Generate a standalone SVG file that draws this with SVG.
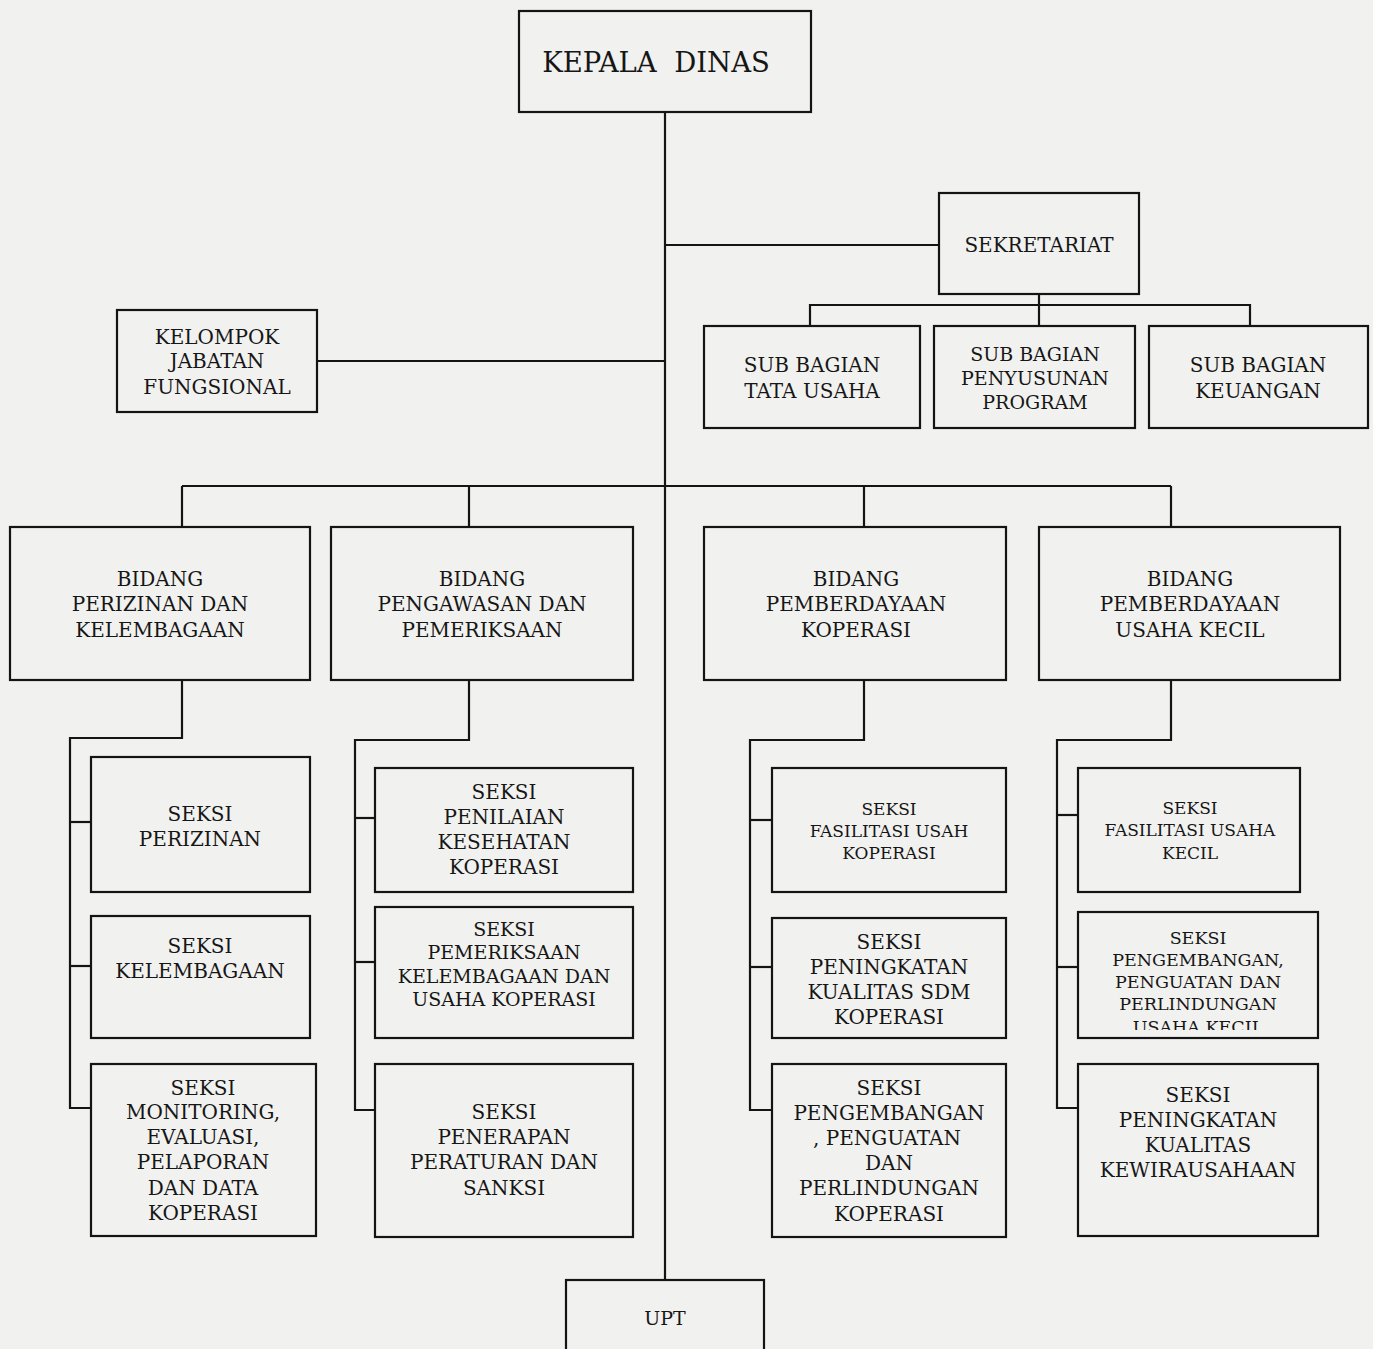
<svg xmlns="http://www.w3.org/2000/svg" width="1373" height="1349" viewBox="0 0 1373 1349">
  <style>
    .bg { fill: #f1f1ef; }
    .box { fill: none; stroke: #141414; stroke-width: 2.2; }
    .ln { fill: none; stroke: #141414; stroke-width: 2.2; }
    text { font-family: "DejaVu Serif", "Liberation Serif", serif; fill: #161616; text-anchor: middle; font-size: 20px; }
    .big { font-size: 27.5px; }
    .s19 { font-size: 19px; }
    .s17 { font-size: 17px; }
    .s175 { font-size: 17.5px; }
  </style>
  <defs>
    <clipPath id="clipPengembanganUK">
      <rect x="1079" y="913" width="238" height="117"/>
    </clipPath>
  </defs>

  <rect class="bg" x="0" y="0" width="1373" height="1349"/>

  <!-- connectors -->
  <g id="connectors">
    <!-- main spine -->
    <line class="ln" x1="665" y1="112" x2="665" y2="1280"/>
    <!-- to sekretariat -->
    <line class="ln" x1="665" y1="245" x2="939" y2="245"/>
    <!-- sekretariat to sub bagian -->
    <line class="ln" x1="1039" y1="294" x2="1039" y2="326"/>
    <polyline class="ln" points="810,326 810,305 1250,305 1250,326"/>
    <!-- to kelompok jabatan fungsional -->
    <line class="ln" x1="317" y1="361" x2="665" y2="361"/>
    <!-- bidang bus -->
    <line class="ln" x1="182" y1="486" x2="1171" y2="486"/>
    <line class="ln" x1="182" y1="486" x2="182" y2="527"/>
    <line class="ln" x1="469" y1="486" x2="469" y2="527"/>
    <line class="ln" x1="864" y1="486" x2="864" y2="527"/>
    <line class="ln" x1="1171" y1="486" x2="1171" y2="527"/>
    <!-- bidang perizinan dan kelembagaan -->
    <polyline class="ln" points="182,680 182,738 70,738 70,1108 91,1108"/>
    <line class="ln" x1="70" y1="822" x2="91" y2="822"/>
    <line class="ln" x1="70" y1="966" x2="91" y2="966"/>
    <!-- bidang pengawasan dan pemeriksaan -->
    <polyline class="ln" points="469,680 469,740 355,740 355,1110 375,1110"/>
    <line class="ln" x1="355" y1="818" x2="375" y2="818"/>
    <line class="ln" x1="355" y1="962" x2="375" y2="962"/>
    <!-- bidang pemberdayaan koperasi -->
    <polyline class="ln" points="864,680 864,740 750,740 750,1110 772,1110"/>
    <line class="ln" x1="750" y1="820" x2="772" y2="820"/>
    <line class="ln" x1="750" y1="967" x2="772" y2="967"/>
    <!-- bidang pemberdayaan usaha kecil -->
    <polyline class="ln" points="1171,680 1171,740 1057,740 1057,1108 1078,1108"/>
    <line class="ln" x1="1057" y1="815" x2="1078" y2="815"/>
    <line class="ln" x1="1057" y1="967" x2="1078" y2="967"/>
  </g>

  <!-- top level -->
  <g id="kepala-dinas">
    <rect class="box" x="519" y="11" width="292" height="101"/>
    <text class="big" x="656" y="72" xml:space="preserve">KEPALA  DINAS</text>
  </g>

  <g id="sekretariat">
    <rect class="box" x="939" y="193" width="200" height="101"/>
    <text x="1039" y="252">SEKRETARIAT</text>
  </g>

  <g id="sub-bagian-tata-usaha">
    <rect class="box" x="704" y="326" width="216" height="102"/>
    <text x="812" y="372">SUB BAGIAN</text>
    <text x="812" y="398">TATA USAHA</text>
  </g>

  <g id="sub-bagian-penyusunan-program">
    <rect class="box" x="934" y="326" width="201" height="102"/>
    <text class="s19" x="1035" y="361">SUB BAGIAN</text>
    <text class="s19" x="1035" y="385">PENYUSUNAN</text>
    <text class="s19" x="1035" y="409">PROGRAM</text>
  </g>

  <g id="sub-bagian-keuangan">
    <rect class="box" x="1149" y="326" width="219" height="102"/>
    <text x="1258" y="372">SUB BAGIAN</text>
    <text x="1258" y="398">KEUANGAN</text>
  </g>

  <g id="kelompok-jabatan-fungsional">
    <rect class="box" x="117" y="310" width="200" height="102"/>
    <text x="217" y="344">KELOMPOK</text>
    <text x="217" y="368">JABATAN</text>
    <text x="217" y="394">FUNGSIONAL</text>
  </g>

  <!-- bidang -->
  <g id="bidang-perizinan-kelembagaan">
    <rect class="box" x="10" y="527" width="300" height="153"/>
    <text x="160" y="586">BIDANG</text>
    <text x="160" y="611">PERIZINAN DAN</text>
    <text x="160" y="637">KELEMBAGAAN</text>
  </g>

  <g id="bidang-pengawasan-pemeriksaan">
    <rect class="box" x="331" y="527" width="302" height="153"/>
    <text x="482" y="586">BIDANG</text>
    <text x="482" y="611">PENGAWASAN DAN</text>
    <text x="482" y="637">PEMERIKSAAN</text>
  </g>

  <g id="bidang-pemberdayaan-koperasi">
    <rect class="box" x="704" y="527" width="302" height="153"/>
    <text x="856" y="586">BIDANG</text>
    <text x="856" y="611">PEMBERDAYAAN</text>
    <text x="856" y="637">KOPERASI</text>
  </g>

  <g id="bidang-pemberdayaan-usaha-kecil">
    <rect class="box" x="1039" y="527" width="301" height="153"/>
    <text x="1190" y="586">BIDANG</text>
    <text x="1190" y="611">PEMBERDAYAAN</text>
    <text x="1190" y="637">USAHA KECIL</text>
  </g>

  <!-- seksi under perizinan dan kelembagaan -->
  <g id="seksi-perizinan">
    <rect class="box" x="91" y="757" width="219" height="135"/>
    <text x="200" y="821">SEKSI</text>
    <text x="200" y="846">PERIZINAN</text>
  </g>

  <g id="seksi-kelembagaan">
    <rect class="box" x="91" y="916" width="219" height="122"/>
    <text x="200" y="953">SEKSI</text>
    <text x="200" y="978">KELEMBAGAAN</text>
  </g>

  <g id="seksi-monitoring">
    <rect class="box" x="91" y="1064" width="225" height="172"/>
    <text x="203" y="1095">SEKSI</text>
    <text x="203" y="1119">MONITORING,</text>
    <text x="203" y="1144">EVALUASI,</text>
    <text x="203" y="1169">PELAPORAN</text>
    <text x="203" y="1195">DAN DATA</text>
    <text x="203" y="1220">KOPERASI</text>
  </g>

  <!-- seksi under pengawasan dan pemeriksaan -->
  <g id="seksi-penilaian-kesehatan">
    <rect class="box" x="375" y="768" width="258" height="124"/>
    <text x="504" y="799">SEKSI</text>
    <text x="504" y="824">PENILAIAN</text>
    <text x="504" y="849">KESEHATAN</text>
    <text x="504" y="874">KOPERASI</text>
  </g>

  <g id="seksi-pemeriksaan">
    <rect class="box" x="375" y="907" width="258" height="131"/>
    <text class="s19" x="504" y="936">SEKSI</text>
    <text class="s19" x="504" y="959">PEMERIKSAAN</text>
    <text class="s19" x="504" y="983">KELEMBAGAAN DAN</text>
    <text class="s19" x="504" y="1006">USAHA KOPERASI</text>
  </g>

  <g id="seksi-penerapan-peraturan">
    <rect class="box" x="375" y="1064" width="258" height="173"/>
    <text x="504" y="1119">SEKSI</text>
    <text x="504" y="1144">PENERAPAN</text>
    <text x="504" y="1169">PERATURAN DAN</text>
    <text x="504" y="1195">SANKSI</text>
  </g>

  <!-- seksi under pemberdayaan koperasi -->
  <g id="seksi-fasilitasi-usaha-koperasi">
    <rect class="box" x="772" y="768" width="234" height="124"/>
    <text class="s17" x="889" y="815">SEKSI</text>
    <text class="s17" x="889" y="837">FASILITASI USAH</text>
    <text class="s17" x="889" y="859">KOPERASI</text>
  </g>

  <g id="seksi-peningkatan-sdm">
    <rect class="box" x="772" y="918" width="234" height="120"/>
    <text x="889" y="949">SEKSI</text>
    <text x="889" y="974">PENINGKATAN</text>
    <text x="889" y="999">KUALITAS SDM</text>
    <text x="889" y="1024">KOPERASI</text>
  </g>

  <g id="seksi-pengembangan-koperasi">
    <rect class="box" x="772" y="1064" width="234" height="173"/>
    <text x="889" y="1095">SEKSI</text>
    <text x="889" y="1120">PENGEMBANGAN</text>
    <text x="887" y="1145">, PENGUATAN</text>
    <text x="889" y="1170">DAN</text>
    <text x="889" y="1195">PERLINDUNGAN</text>
    <text x="889" y="1221">KOPERASI</text>
  </g>

  <!-- seksi under pemberdayaan usaha kecil -->
  <g id="seksi-fasilitasi-usaha-kecil">
    <rect class="box" x="1078" y="768" width="222" height="124"/>
    <text class="s17" x="1190" y="814">SEKSI</text>
    <text class="s17" x="1190" y="836">FASILITASI USAHA</text>
    <text class="s17" x="1190" y="859">KECIL</text>
  </g>

  <g id="seksi-pengembangan-usaha-kecil">
    <rect class="box" x="1078" y="912" width="240" height="126"/>
    <g clip-path="url(#clipPengembanganUK)">
      <text class="s175" x="1198" y="944">SEKSI</text>
      <text class="s175" x="1198" y="966">PENGEMBANGAN,</text>
      <text class="s175" x="1198" y="988">PENGUATAN DAN</text>
      <text class="s175" x="1198" y="1010">PERLINDUNGAN</text>
      <text class="s175" x="1198" y="1033">USAHA KECIL</text>
    </g>
  </g>

  <g id="seksi-peningkatan-kewirausahaan">
    <rect class="box" x="1078" y="1064" width="240" height="172"/>
    <text x="1198" y="1102">SEKSI</text>
    <text x="1198" y="1127">PENINGKATAN</text>
    <text x="1198" y="1152">KUALITAS</text>
    <text x="1198" y="1177">KEWIRAUSAHAAN</text>
  </g>

  <!-- unit pelaksana teknis -->
  <g id="upt">
    <rect class="box" x="566" y="1280" width="198" height="80"/>
    <text class="s19" x="665" y="1325">UPT</text>
  </g>
</svg>
